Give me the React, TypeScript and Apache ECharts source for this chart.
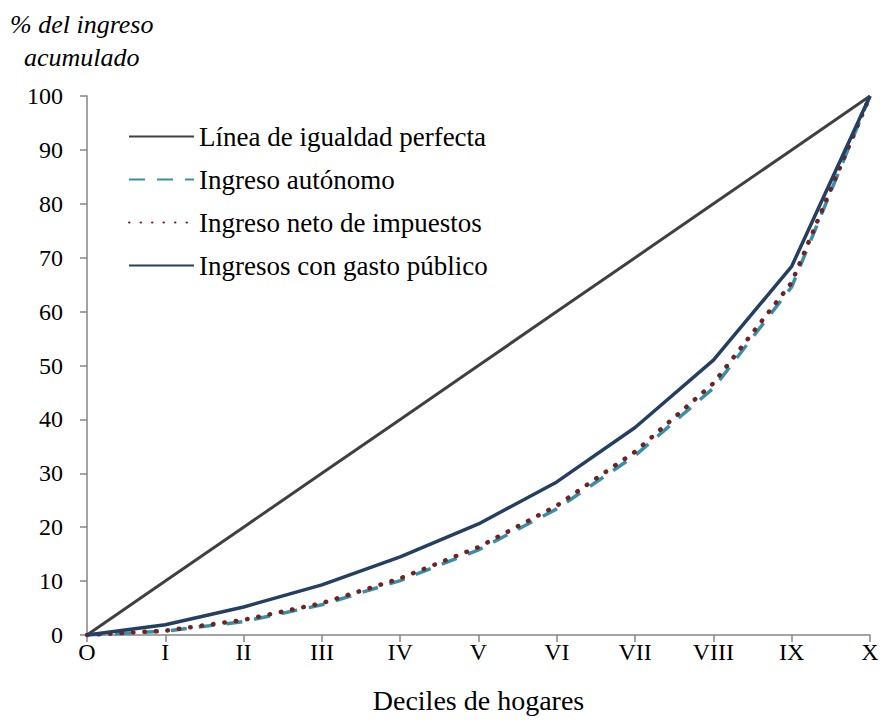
import React, { useEffect, useRef } from "react";
import * as echarts from "echarts";

const categories = ["O", "I", "II", "III", "IV", "V", "VI", "VII", "VIII", "IX", "X"];
const igualdad = [0, 10, 20, 30, 40, 50, 60, 70, 80, 90, 100];
const autonomo = [0, 0.7, 2.5, 5.6, 10.1, 15.8, 23.4, 33.3, 45.8, 64.6, 100];
const neto = [0, 0.8, 2.8, 5.9, 10.5, 16.3, 24.0, 34.0, 46.7, 65.4, 100];
const gasto = [0, 1.9, 5.2, 9.3, 14.5, 20.6, 28.4, 38.5, 51.0, 68.4, 100];
const yTicks = [0, 10, 20, 30, 40, 50, 60, 70, 80, 90, 100];

const FONT = "Liberation Serif";

export default function App() {
  const ref = useRef<HTMLDivElement>(null);
  useEffect(() => {
    if (!ref.current) return;
    const chart = echarts.init(ref.current, undefined, { renderer: "svg" });
    chart.setOption({
      animation: false,
      backgroundColor: "#ffffff",
      textStyle: { fontFamily: FONT },
      grid: { left: 87, right: 13, top: 96, bottom: 90, containLabel: false },
      graphic: [
        {
          type: "text",
          x: 10,
          y: 24,
          style: {
            text: "% del ingreso",
            fontFamily: FONT,
            fontSize: 26,
            fontStyle: "italic",
            fill: "#000",
            verticalAlign: "middle",
          },
        },
        {
          type: "text",
          x: 24,
          y: 57,
          style: {
            text: "acumulado",
            fontFamily: FONT,
            fontSize: 26,
            fontStyle: "italic",
            fill: "#000",
            verticalAlign: "middle",
          },
        },
      ],
      legend: {
        orient: "vertical",
        left: 123,
        top: 118,
        itemWidth: 65,
        itemHeight: 14,
        itemGap: 16,
        itemStyle: { opacity: 0 },
        textStyle: { fontFamily: FONT, fontSize: 27, color: "#000" },
        data: [
          "Línea de igualdad perfecta",
          "Ingreso autónomo",
          "Ingreso neto de impuestos",
          "Ingresos con gasto público",
        ],
      },
      xAxis: {
        type: "category",
        data: categories,
        boundaryGap: false,
        name: "Deciles de hogares",
        nameLocation: "middle",
        nameGap: 51,
        nameTextStyle: { fontFamily: FONT, fontSize: 28, color: "#000" },
        axisLine: { lineStyle: { color: "#868686", width: 1.5 } },
        axisTick: { alignWithLabel: true, length: 7, lineStyle: { color: "#868686", width: 1.5 } },
        axisLabel: { fontFamily: FONT, fontSize: 24, color: "#000", margin: 5, interval: 0 },
        splitLine: { show: false },
      },
      yAxis: {
        type: "value",
        min: 0,
        max: 100,
        interval: 10,
        axisLine: { show: true, lineStyle: { color: "#868686", width: 1.5 } },
        axisTick: { show: true, length: 7, lineStyle: { color: "#868686", width: 1.5 } },
        axisLabel: {
          fontFamily: FONT,
          fontSize: 24,
          color: "#000",
          margin: 24,
          formatter: (v: number) => (yTicks.includes(v) ? String(v) : ""),
        },
        splitLine: { show: false },
      },
      series: [
        {
          name: "Línea de igualdad perfecta",
          type: "line",
          data: igualdad,
          symbol: "none",
          color: "#404040",
          lineStyle: { color: "#404040", width: 3 },
        },
        {
          name: "Ingreso autónomo",
          type: "line",
          data: autonomo,
          symbol: "none",
          color: "#3A8FA8",
          lineStyle: { color: "#3A8FA8", width: 3.5, type: [16, 12] },
        },
        {
          name: "Ingreso neto de impuestos",
          type: "line",
          data: neto,
          symbol: "none",
          color: "#6E2424",
          lineStyle: { color: "#6E2424", width: 4.5, type: [0.5, 11], cap: "round" },
        },
        {
          name: "Ingresos con gasto público",
          type: "line",
          data: gasto,
          symbol: "none",
          color: "#243F62",
          lineStyle: { color: "#243F62", width: 3.5 },
        },
      ],
    });
    return () => chart.dispose();
  }, []);
  return (
    <div
      ref={ref}
      style={{ position: "absolute", left: 0, top: 0, width: 883, height: 725 }}
    />
  );
}
